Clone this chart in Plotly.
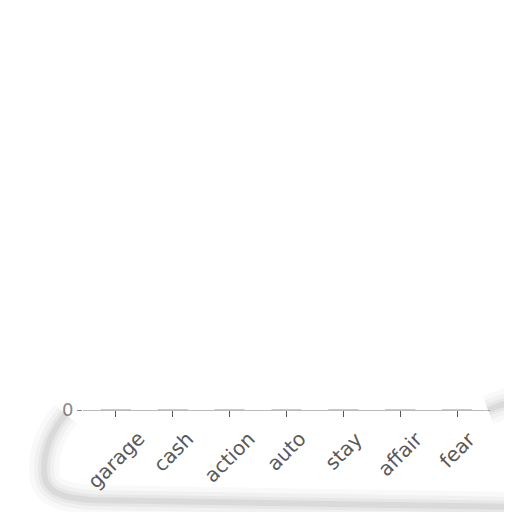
import plotly.graph_objects as go

categories = ['garage', 'cash', 'action', 'auto', 'stay', 'affair', 'fear']
counts = [0, 0, 0, 0, 0, 0, 0]

# the page body adds ~8px around the figure
OFF = 8
W, H = 512 - OFF, 512 - OFF
# plot area in page pixels (left, right, top, bottom)
PX_L, PX_R, PX_T, PX_B = 83, 490, 20, 410


def px(x, y):
    # page pixel -> paper coords, used for the page shadow decoration
    return (x - PX_L) / (PX_R - PX_L), (PX_B - y) / (PX_B - PX_T)


def path(points):
    parts = []
    for cmd, pts in points:
        coords = ' '.join('%.4f,%.4f' % px(*p) for p in pts)
        parts.append(cmd + ' ' + coords)
    return ' '.join(parts)


bars = go.Bar(
    x=categories,
    y=counts,
    marker=dict(
        color='#eba595',
        line=dict(color='#eba595', width=1.5),
    ),
)

fig = go.Figure(data=[bars])

shadow_left = path([
    ('M', [(66, 414)]),
    ('C', [(54, 428), (44, 445), (44, 470)]),
    ('C', [(44, 490), (56, 497), (90, 500)]),
    ('L', [(512, 507)]),
])
shadow_right = path([
    ('M', [(488, 410)]),
    ('C', [(496, 407), (503, 404), (512, 402)]),
])

shapes = []
for width, alpha in [(30, 0.03), (20, 0.04), (12, 0.05), (6, 0.07)]:
    shapes.append(dict(type='path', xref='paper', yref='paper', path=shadow_left,
                       line=dict(color='rgba(60,60,60,%s)' % alpha, width=width)))
    shapes.append(dict(type='path', xref='paper', yref='paper', path=shadow_right,
                       line=dict(color='rgba(60,60,60,%s)' % alpha, width=width)))

labels = [
    dict(x=cat, y=0, xref='x', yref='y', text=cat, showarrow=False,
         textangle=-45, xanchor='center', yanchor='top', yshift=-14,
         font=dict(family='DejaVu Sans', size=20, color='#595959'))
    for cat in categories
]

fig.update_layout(
    width=W,
    height=H,
    margin=dict(l=PX_L - OFF, r=512 - PX_R, t=PX_T - OFF, b=512 - PX_B),
    paper_bgcolor='white',
    plot_bgcolor='white',
    font=dict(family='DejaVu Sans', color='#666666', size=15),
    bargap=0.47,
    showlegend=False,
    shapes=shapes,
    annotations=labels,
)

fig.update_xaxes(
    range=[-0.58, 6.58],
    showticklabels=False,
    ticks='outside',
    ticklen=6,
    tickwidth=1,
    tickcolor='#555555',
    showline=True,
    linecolor='#bbbbbb',
    linewidth=1,
    showgrid=False,
)

fig.update_yaxes(
    range=[0, 1],
    tickvals=[0],
    ticks='outside',
    ticklen=5,
    tickcolor='#888888',
    showgrid=False,
    zeroline=False,
    showline=False,
    tickfont=dict(family='DejaVu Sans', size=18, color='#888888'),
)

fig.write_html("out.html")
